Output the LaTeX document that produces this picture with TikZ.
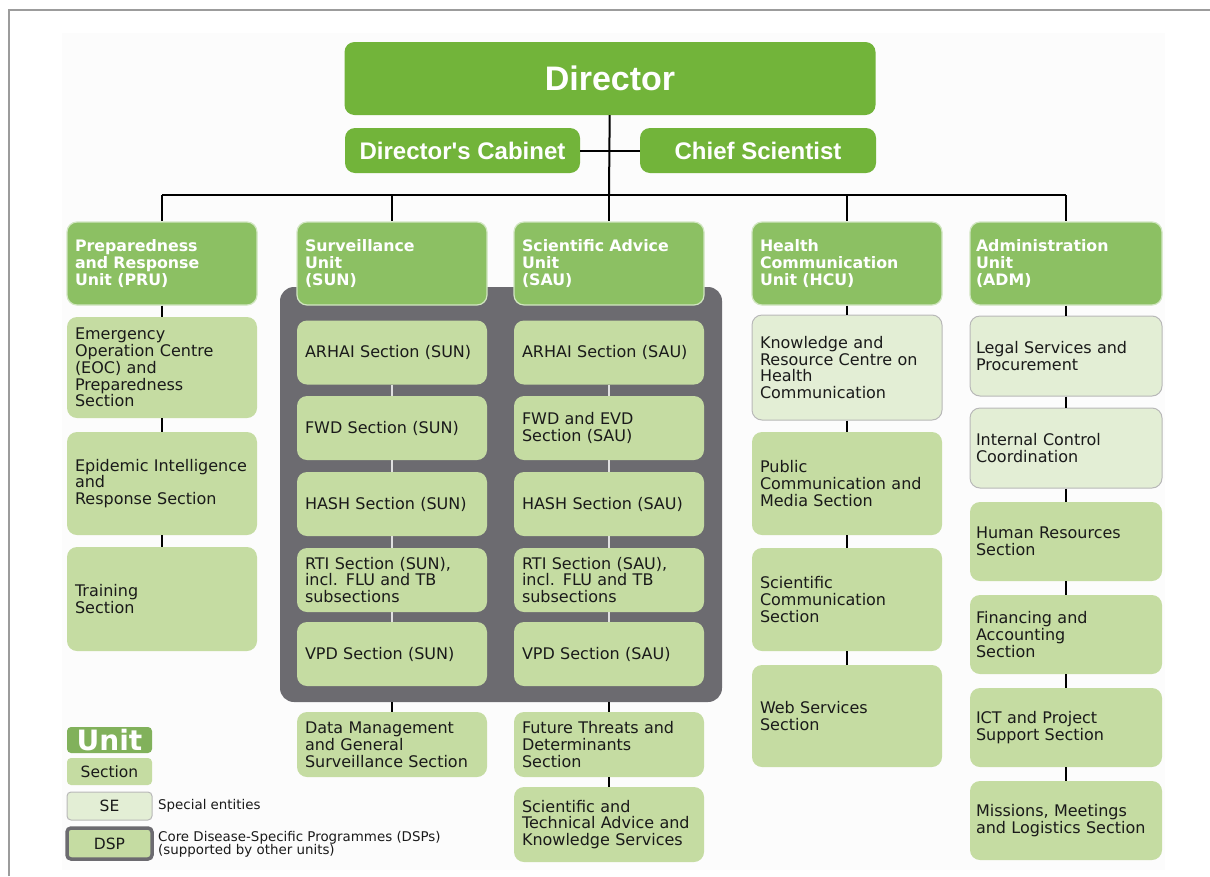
\documentclass[tikz,border=0pt]{standalone}
\usepackage{fontspec}
\setmainfont{DejaVu Sans}
\newfontfamily\topfont{Liberation Sans}
\usetikzlibrary{calc}
\definecolor{topgreen}{HTML}{72B43A}
\definecolor{unitgreen}{HTML}{8CC063}
\definecolor{sectgreen}{HTML}{C5DCA2}
\definecolor{segreen}{HTML}{E3EED5}
\definecolor{dspgray}{HTML}{6C6B70}
\definecolor{framegray}{HTML}{9C9C9C}
\definecolor{inktext}{HTML}{1A1A1A}
\tikzset{
  topbox/.style={rounded corners=10pt, fill=topgreen, text=white, inner sep=0pt,
    font=\topfont\bfseries\fontsize{24}{24}\selectfont},
  unitbox/.style={rounded corners=10pt, fill=unitgreen, draw=unitgreen!40!white, line width=1.2pt,
    text=white, align=left, text width=174pt, minimum width=190pt, minimum height=83pt,
    inner xsep=8pt, inner ysep=0pt, font=\bfseries\fontsize{15.8}{16.6}\selectfont},
  sectbox/.style={rounded corners=10pt, fill=sectgreen, text=inktext, align=left,
    text width=174pt, minimum width=190pt, minimum height=#1, inner xsep=8pt, inner ysep=0pt,
    font=\fontsize{16}{16.8}\selectfont},
  sectbox/.default=64pt,
  sebox/.style={sectbox=#1, fill=segreen, draw=black!28, line width=1pt},
  admbox/.style={text width=180pt, minimum width=192pt, inner xsep=6pt},
  dsppanel/.style={rounded corners=14pt, fill=dspgray},
  legendbox/.style={rounded corners=4pt, minimum width=85pt, minimum height=#1, inner sep=0pt,
    text=inktext, font=\fontsize{15.5}{16}\selectfont},
  link/.style={line width=2pt},
  dsplink/.style={line width=2pt, draw=black!12},
}

\begin{document}
\begin{tikzpicture}[x=1pt, y=-1pt]
%%%%% frame %%%%%
\useasboundingbox (0,0) rectangle (1210,876);
\fill[black!1] (62,33) rectangle (1165,870);
\draw[framegray, line width=2pt] (9,876) -- (9,10) -- (1210,10);

%%%%% director %%%%%
\node[topbox, minimum width=531pt, minimum height=73pt, font=\topfont\bfseries\fontsize{34}{34}\selectfont] (director) at (610,78.5) {Director};
\node[topbox, minimum width=235pt, minimum height=45pt] (cabinet) at (462.5,150.5) {Director's Cabinet};
\node[topbox, minimum width=236pt, minimum height=45pt] (chief) at (758,150.5) {Chief Scientist};

%%%%% disease programmes panel %%%%%
\node[dsppanel, minimum width=442pt, minimum height=415pt] (dsp) at (501,494.5) {};

%%%%% units %%%%%
\node[unitbox] (pru) at (162,263.5) {Preparedness\\and Response\\Unit (PRU)};
\node[unitbox] (sun) at (392,263.5) {Surveillance\\Unit\\(SUN)};
\node[unitbox] (sau) at (609,263.5) {Scientific Advice\\Unit\\(SAU)};
\node[unitbox] (hcu) at (847,263.5) {Health\\Communication\\Unit (HCU)};
\node[unitbox, admbox] (adm) at (1066,263.5) {Administration\\Unit\\(ADM)};

%%%%% PRU %%%%%
\node[sectbox=101pt] (eoc) at (162,367.5) {Emergency\\Operation Centre\\(EOC) and\\Preparedness\\Section};
\node[sectbox=103pt] (epi) at (162,483.5) {Epidemic Intelligence\\and\\Response Section};
\node[sectbox=104pt] (train) at (162,599) {Training\\Section};

%%%%% SUN %%%%%
\node[sectbox] (arhaisun) at (392,352.5) {ARHAI Section (SUN)};
\node[sectbox] (fwdsun) at (392,428) {FWD Section (SUN)};
\node[sectbox] (hashsun) at (392,504) {HASH Section (SUN)};
\node[sectbox] (rtisun) at (392,580) {RTI Section (SUN),\\incl. FLU and TB\\subsections};
\node[sectbox] (vpdsun) at (392,654) {VPD Section (SUN)};
\node[sectbox=65pt] (datamgmt) at (392,744.5) {Data Management\\and General\\Surveillance Section};

%%%%% SAU %%%%%
\node[sectbox] (arhaisau) at (609,352.5) {ARHAI Section (SAU)};
\node[sectbox] (fwdsau) at (609,428) {FWD and EVD\\Section (SAU)};
\node[sectbox] (hashsau) at (609,504) {HASH Section (SAU)};
\node[sectbox] (rtisau) at (609,580) {RTI Section (SAU),\\incl. FLU and TB\\subsections};
\node[sectbox] (vpdsau) at (609,654) {VPD Section (SAU)};
\node[sectbox=65pt] (future) at (609,744.5) {Future Threats and\\Determinants\\Section};
\node[sectbox=75pt] (scitech) at (609,824.5) {Scientific and\\Technical Advice and\\Knowledge Services};

%%%%% HCU %%%%%
\node[sebox=105pt] (knowledge) at (847,367.5) {Knowledge and\\Resource Centre on\\Health\\Communication};
\node[sectbox=103pt] (media) at (847,483.5) {Public\\Communication and\\Media Section};
\node[sectbox=103pt] (scicomm) at (847,599.5) {Scientific\\Communication\\Section};
\node[sectbox=102pt] (web) at (847,716) {Web Services\\Section};

%%%%% ADM %%%%%
\node[sebox=80pt, admbox] (legal) at (1066,356) {Legal Services and\\Procurement};
\node[sebox=80pt, admbox] (control) at (1066,448) {Internal Control\\Coordination};
\node[sectbox=79pt, admbox] (hr) at (1066,541.5) {Human Resources\\Section};
\node[sectbox=79pt, admbox] (finance) at (1066,634.5) {Financing and\\Accounting\\Section};
\node[sectbox=79pt, admbox] (ict) at (1066,727.5) {ICT and Project\\Support Section};
\node[sectbox=79pt, admbox] (missions) at (1066,820.5) {Missions, Meetings\\and Logistics Section};

%%%%% connectors %%%%%
\coordinate (hub) at (609,195);
\draw[link] (director) -- (hub);
\draw[link] (cabinet) -- (chief);
\draw[line width=2.5pt] (pru |- hub) -- (adm |- hub);
\foreach \u in {pru,sun,sau,hcu,adm}
  \draw[link] (\u |- hub) -- (\u);
\foreach \a/\b in {pru/eoc, eoc/epi, epi/train, hcu/knowledge, knowledge/media, media/scicomm, scicomm/web,
  adm/legal, legal/control, control/hr, hr/finance, finance/ict, ict/missions, future/scitech}
  \draw[link] (\a) -- (\b);
\foreach \a/\b in {arhaisun/fwdsun, fwdsun/hashsun, hashsun/rtisun, rtisun/vpdsun,
  arhaisau/fwdsau, fwdsau/hashsau, hashsau/rtisau, rtisau/vpdsau}
  \draw[dsplink] (\a) -- (\b);
\draw[link] (dsp.south -| datamgmt) -- (datamgmt);
\draw[link] (dsp.south -| future) -- (future);

%%%%% legend %%%%%
\node[legendbox=26pt, fill=unitgreen!92!black, text=white, font=\bfseries\fontsize{28}{28}\selectfont] (lgunit) at (109.5,740) {Unit};
\node[legendbox=27pt, fill=sectgreen] (lgsect) at (109.5,771.5) {Section};
\node[legendbox=28pt, fill=segreen, draw=black!28, line width=1pt] (lgse) at (109.5,806) {SE};
\node[legendbox=31pt, fill=sectgreen, draw=dspgray, line width=3.5pt] (lgdsp) at (109.5,843.5) {DSP};
\node[anchor=west, inner sep=0pt, text=inktext, font=\fontsize{13.4}{13.5}\selectfont] (lgsetext) at (158,806) {Special entities};
\node[anchor=west, inner sep=0pt, align=left, text=inktext, font=\fontsize{13.4}{13}\selectfont] (lgdsptext) at (158,844) {Core Disease-Specific Programmes (DSPs)\\(supported by other units)};
\end{tikzpicture}
\end{document}
